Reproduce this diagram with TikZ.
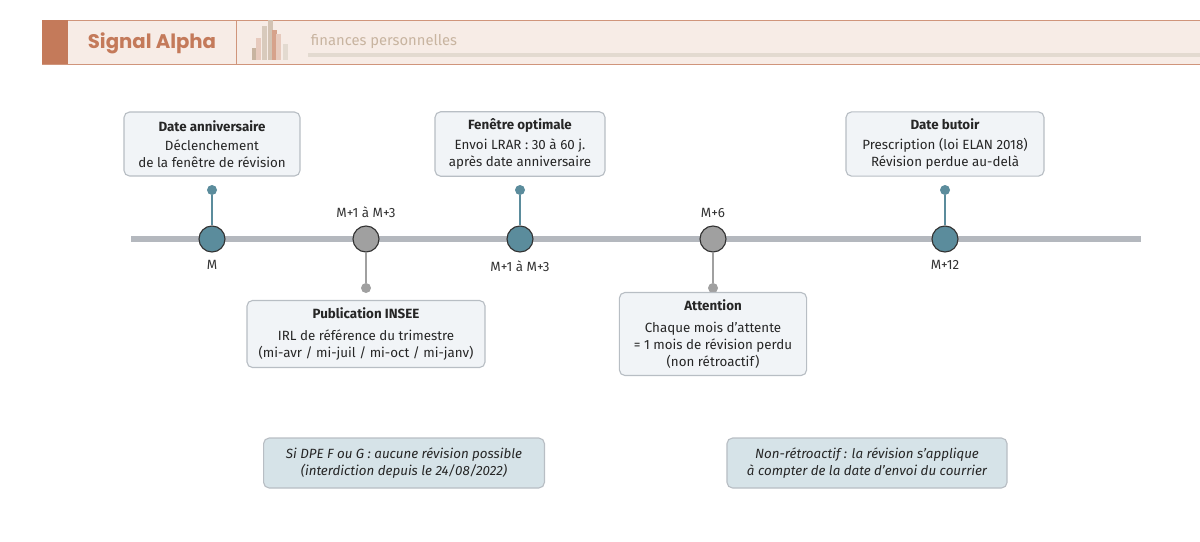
\documentclass[tikz,border=0pt]{standalone}
\usepackage{fontspec}
\setmainfont{Fira Sans}
\newfontfamily\titlefont{Poppins}
\usetikzlibrary{positioning}
\definecolor{brique}{HTML}{C47A5A}
\definecolor{bandeau}{HTML}{F7ECE6}
\definecolor{sable}{HTML}{C8B4A0}
\definecolor{teal}{HTML}{5B8C9C}
\definecolor{gris}{HTML}{A0A0A0}
\definecolor{axe}{HTML}{B4B8BE}
\definecolor{boite}{HTML}{F1F4F7}
\definecolor{bord}{HTML}{B8BEC4}
\definecolor{note}{HTML}{D6E3E8}
\newcommand{\apos}{\char39}
\begin{document}
\begin{tikzpicture}[
    x=0.025cm, y=-0.025cm,
    event/.style={rectangle, draw=bord, fill=boite, rounded corners=4pt, line width=0.8pt, align=center, font=\fontsize{9.5}{12}\selectfont, text=black!85, inner sep=5pt},
    remark/.style={rectangle, draw=bord, fill=note, rounded corners=4pt, line width=0.8pt, align=center, font=\fontsize{9.5}{12}\selectfont\itshape, text=black!85, inner sep=5pt},
    jalon/.style={circle, draw=black!80, line width=0.8pt, minimum size=0.65cm, inner sep=0pt},
    pin/.style={circle, inner sep=0pt, minimum size=0.25cm},
    stem/.style={line width=1.2pt},
    mois/.style={font=\fontsize{9.5}{12}\selectfont, text=black!80}
]
    \useasboundingbox (0,0) rectangle (1200,541);
    % Header
    \fill[bandeau] (42,20) rectangle (1200,64);
    \draw[brique!80, line width=0.6pt] (42,20) -- (1200,20) (42,64) -- (1200,64) (236,20) -- (236,64);
    \fill[brique] (42,20) rectangle (68,64);
    \node[text=brique, font=\titlefont\bfseries\fontsize{14}{16}\selectfont] (titre) at (152,43) {Signal Alpha};
    \foreach \x/\h/\c in {252/12/sable, 256/22/brique!40, 262/34/sable!70, 268/40/sable!80, 272/30/brique!70, 276/26/brique!40, 283/16/sable!50}
        \fill[\c] (\x,60) rectangle ++(5,-\h);
    \node[anchor=west, text=sable, font=\fontsize{10.5}{12}\selectfont] (sous) at (306,42) {finances personnelles};
    \fill[sable!50] (308,53) rectangle (1200,57);

    % Axis
    \coordinate (debut) at (131,239);
    \coordinate (fin) at (1141,239);
    \draw[axe, line width=4.5pt] (debut) -- (fin);

    % Milestones
    \node[jalon, fill=teal] (m0) at (212,239) {};
    \node[jalon, fill=gris] (m1) at (366,239) {};
    \node[jalon, fill=teal] (m2) at (520,239) {};
    \node[jalon, fill=gris] (m6) at (713,239) {};
    \node[jalon, fill=teal] (m12) at (945,239) {};

    \node[mois, below=2pt of m0] {M};
    \node[mois, above=2pt of m1] {M+1 à M+3};
    \node[mois, below=2pt of m2] {M+1 à M+3};
    \node[mois, above=2pt of m6] {M+6};
    \node[mois, below=2pt of m12] {M+12};

    % Pins
    \node[pin, fill=teal] (p0) at (212,190) {};
    \node[pin, fill=gris] (p1) at (366,288) {};
    \node[pin, fill=teal] (p2) at (520,190) {};
    \node[pin, fill=gris] (p6) at (713,288) {};
    \node[pin, fill=teal] (p12) at (945,190) {};
    \draw[stem, teal] (p0) -- (m0);
    \draw[stem, gris] (p1) -- (m1);
    \draw[stem, teal] (p2) -- (m2);
    \draw[stem, gris] (p6) -- (m6);
    \draw[stem, teal] (p12) -- (m12);

    % Boxes
    \node[event, minimum width=4.4cm, minimum height=1.6cm] (anniv) at (212,144) {\textbf{Date anniversaire}\\[2pt]Déclenchement\\de la fenêtre de révision};
    \node[event, minimum width=4.25cm, minimum height=1.6cm] (optim) at (520,144) {\textbf{Fenêtre optimale}\\[2pt]Envoi LRAR : 30 à 60 j.\\après date anniversaire};
    \node[event, minimum width=4.95cm, minimum height=1.6cm] (butoir) at (945,144) {\textbf{Date butoir}\\[2pt]Prescription (loi ELAN 2018)\\Révision perdue au-delà};
    \node[event, minimum width=5.95cm, minimum height=1.65cm] (insee) at (366,334) {\textbf{Publication INSEE}\\[4pt]IRL de référence du trimestre\\(mi-avr / mi-juil / mi-oct / mi-janv)};
    \node[event, minimum width=4.68cm, minimum height=2cm] (attention) at (713,334) {\textbf{Attention}\\[4pt]Chaque mois d\apos attente\\= 1 mois de révision perdu\\(non rétroactif)};

    % Notes
    \node[remark, minimum width=7.02cm, minimum height=1.25cm] (dpe) at (404,463) {Si DPE F ou G : aucune révision possible\\(interdiction depuis le 24/08/2022)};
    \node[remark, minimum width=7cm, minimum height=1.25cm] (retro) at (867,463) {Non-rétroactif : la révision s\apos applique\\à compter de la date d\apos envoi du courrier};
\end{tikzpicture}
\end{document}
